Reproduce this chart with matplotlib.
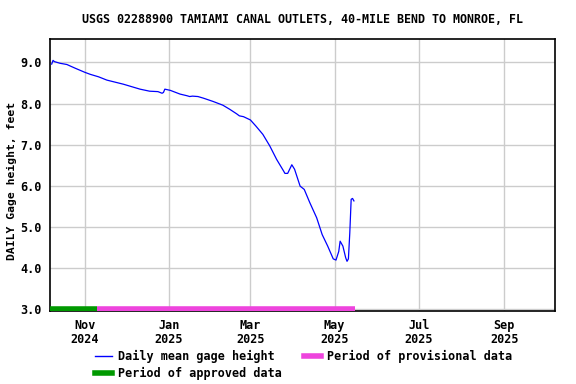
import matplotlib
matplotlib.use("Agg")
import matplotlib.pyplot as plt
import matplotlib.dates as mdates
from matplotlib.lines import Line2D
import pandas as pd

# gage height readings (feet)
dates = ["2024-10-08", "2024-10-09", "2024-10-10", "2024-10-14", "2024-10-19", "2024-10-25",
         "2024-11-01", "2024-11-05", "2024-11-11", "2024-11-17", "2024-11-23", "2024-11-29",
         "2024-12-05", "2024-12-11", "2024-12-18", "2024-12-24", "2024-12-27", "2024-12-28",
         "2024-12-29", "2025-01-02", "2025-01-09", "2025-01-14", "2025-01-16", "2025-01-18",
         "2025-01-22", "2025-01-26", "2025-02-02", "2025-02-09", "2025-02-14", "2025-02-19",
         "2025-02-21", "2025-02-24", "2025-03-01", "2025-03-05", "2025-03-10", "2025-03-15",
         "2025-03-20", "2025-03-25", "2025-03-26", "2025-03-28", "2025-03-31", "2025-04-02",
         "2025-04-06", "2025-04-09", "2025-04-13", "2025-04-18", "2025-04-22", "2025-04-26",
         "2025-04-30", "2025-05-02", "2025-05-04", "2025-05-05", "2025-05-07", "2025-05-09",
         "2025-05-10", "2025-05-11", "2025-05-12", "2025-05-13", "2025-05-14", "2025-05-15"]
heights = [8.96, 9.05, 9.02, 8.98, 8.95, 8.86,
           8.76, 8.71, 8.65, 8.57, 8.52, 8.47,
           8.41, 8.35, 8.30, 8.29, 8.25, 8.27,
           8.35, 8.32, 8.23, 8.19, 8.17, 8.18,
           8.17, 8.13, 8.05, 7.96, 7.86, 7.75,
           7.70, 7.68, 7.60, 7.45, 7.25, 6.97,
           6.64, 6.36, 6.30, 6.30, 6.51, 6.40,
           5.99, 5.91, 5.59, 5.22, 4.81, 4.53,
           4.22, 4.19, 4.40, 4.65, 4.53, 4.25,
           4.16, 4.22, 4.85, 5.67, 5.69, 5.63]

approved_period = ["2024-10-07", "2024-11-10"]
provisional_period = ["2024-11-10", "2025-05-16"]

title = "USGS 02288900 TAMIAMI CANAL OUTLETS, 40-MILE BEND TO MONROE, FL"
font = "DejaVu Sans Mono"

fig = plt.figure(figsize=(5.76, 3.84), dpi=100)
ax = fig.add_axes([0.0873, 0.19, 0.877, 0.7084])

x = pd.to_datetime(dates)
ax.plot(x, heights, color="#0000ff", lw=0.9, zorder=3)
ax.plot(pd.to_datetime(approved_period), [3.0, 3.0], color="#009900", lw=4, solid_capstyle="butt", zorder=4)
ax.plot(pd.to_datetime(provisional_period), [3.0, 3.0], color="#ee44dd", lw=4, solid_capstyle="butt", zorder=4)

ax.set_xlim(pd.Timestamp("2024-10-07"), pd.Timestamp("2025-10-08"))
ax.set_ylim(2.95, 9.57)
ax.set_yticks([3, 4, 5, 6, 7, 8, 9])
ax.yaxis.set_major_formatter(plt.FormatStrFormatter("%.1f"))
ax.xaxis.set_major_locator(mdates.MonthLocator(bymonth=[1, 3, 5, 7, 9, 11]))
ax.xaxis.set_major_formatter(mdates.DateFormatter("%b\n%Y"))
ax.grid(True, color="#cccccc", lw=1)
ax.set_axisbelow(True)
ax.tick_params(length=0, pad=6)
for lab in ax.get_xticklabels() + ax.get_yticklabels():
    lab.set_fontfamily(font)
    lab.set_fontweight("bold")
    lab.set_fontsize(8.5)
    lab.set_linespacing(1.1)
for s in ax.spines.values():
    s.set_linewidth(1.2)

fig.text(0.021, 0.529, "DAILY Gage height, feet", rotation=90, ha="center", va="center",
         fontfamily=font, fontweight="bold", fontsize=8.2)
fig.text(0.525, 0.95, title, ha="center", va="center", fontfamily=font, fontweight="bold", fontsize=8.4)

handles = [Line2D([], [], color="#0000ff", lw=1),
           Line2D([], [], color="#009900", lw=4),
           Line2D([], [], color="#ee44dd", lw=4)]
labels = ["Daily mean gage height", "Period of approved data", "Period of provisional data"]
fig.legend(handles, labels, loc="upper left", bbox_to_anchor=(0.165, 0.089), ncol=2,
           frameon=False, borderpad=0, borderaxespad=0, handlelength=1.45, handletextpad=0.5,
           columnspacing=1.9, labelspacing=0.35,
           prop={"family": font, "weight": "bold", "size": 8.5})

fig.savefig("out.png", dpi=100)
